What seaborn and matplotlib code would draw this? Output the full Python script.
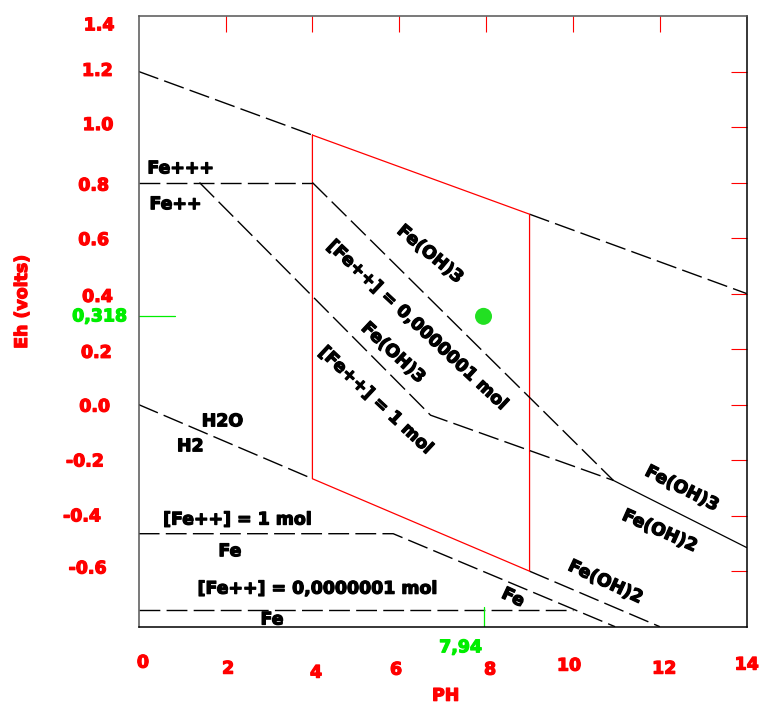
import matplotlib
matplotlib.use("Agg")
import matplotlib.pyplot as plt
import matplotlib.transforms as mtransforms
import matplotlib.patheffects as pe
import seaborn as sns

# ---------------- data ----------------
# water stability limits
o2_ph = [0, 4, 9, 14]
o2_eh = [1.20, 0.971, 0.686, 0.40]
h2_ph = [0, 4, 9, 12]
h2_eh = [0.0, -0.267, -0.600, -0.80]

# stability window of water between pH 4 and 9 (red outline)
box_ph = [4, 9, 9, 4, 4]
box_eh = [0.971, 0.686, -0.600, -0.267, 0.971]

# Fe+++ / Fe++
fe3_ph = [0, 4]
fe3_eh = [0.80, 0.80]
# Fe(OH)3 / Fe++ , [Fe++] = 0,0000001 mol
feoh3_7_ph = [4, 10.93]
feoh3_7_eh = [0.80, -0.273]
# Fe(OH)3 / Fe++ , [Fe++] = 1 mol
feoh3_1_ph = [1.40, 6.72, 10.93]
feoh3_1_eh = [0.80, -0.038, -0.273]
# Fe(OH)3 / Fe(OH)2
feoh32_ph = [10.93, 14]
feoh32_eh = [-0.273, -0.515]
# Fe++ / Fe , [Fe++] = 1 mol
fe_1_ph = [0, 5.86, 10.97]
fe_1_eh = [-0.465, -0.465, -0.80]
# Fe++ / Fe , [Fe++] = 0,0000001 mol
fe_7_ph = [0, 10.0]
fe_7_eh = [-0.741, -0.741]

# measured sample
sample_ph = [7.94]
sample_eh = [0.318]
sample_ph_label = "7,94"
sample_eh_label = "0,318"

xtick_vals = [0, 2, 4, 6, 8, 10, 12, 14]
xtick_labels = ["0", "2", "4", "6", "8", "10", "12", "14"]
ytick_vals = [-0.6, -0.4, -0.2, 0.0, 0.2, 0.4, 0.6, 0.8, 1.0, 1.2, 1.4]
ytick_labels = ["-0.6", "-0.4", "-0.2", "0.0", "0.2", "0.4", "0.6", "0.8",
                "1.0", "1.2", "1.4"]

# region labels: text, pH, Eh, rotation
label_text = ["Fe+++", "Fe++", "H2O", "H2", "[Fe++] = 1 mol", "Fe",
              "[Fe++] = 0,0000001 mol", "Fe",
              "Fe(OH)3", "[Fe++] = 0,0000001 mol", "Fe(OH)3", "[Fe++] = 1 mol",
              "Fe(OH)3", "Fe(OH)2", "Fe(OH)2", "Fe"]
label_ph = [0.97, 0.85, 1.93, 1.19, 2.275, 2.10, 4.12, 3.07,
            6.71, 6.42, 5.86, 5.46,
            12.51, 12.00, 10.75, 8.62]
label_eh = [0.851, 0.722, -0.060, -0.150, -0.414, -0.528, -0.663, -0.774,
            0.542, 0.286, 0.187, 0.0155,
            -0.302, -0.455, -0.639, -0.695]
label_rot = [0, 0, 0, 0, 0, 0, 0, 0,
             -40, -43, -43, -43,
             -27, -24, -25, -25]

# ---------------- style ----------------
sns.set_style("white")
plt.rcParams["font.family"] = ["DejaVu Sans"]
plt.rcParams["font.weight"] = "bold"
RED = "#ff0000"
GREEN = "#00ee00"
FS = 12.5
DASH = (0, (15, 4.5))


def heavy(color):
    return [pe.withStroke(linewidth=0.9, foreground=color)]


fig = plt.figure(figsize=(7.6, 7.07), dpi=100)
ax = fig.add_axes([138.7 / 760, 1 - 626.7 / 707, 608 / 760, 610.7 / 707])


def line(x, y, color="black", ls=DASH, lw=1.0):
    sns.lineplot(x=x, y=y, ax=ax, color=color, linestyle=ls, linewidth=lw,
                 sort=False, estimator=None, legend=False)


# dashed water lines outside the red window
line(o2_ph[0:2], o2_eh[0:2])
line(o2_ph[2:4], o2_eh[2:4])
line(h2_ph[0:2], h2_eh[0:2])
line(h2_ph[2:4], h2_eh[2:4])
# red window
line(box_ph, box_eh, color=RED, ls="-", lw=0.9)
# iron boundaries
line(fe3_ph, fe3_eh)
line(feoh3_7_ph, feoh3_7_eh)
line(feoh3_1_ph, feoh3_1_eh)
line(feoh32_ph, feoh32_eh, ls="-", lw=0.9)
line(fe_1_ph, fe_1_eh)
line(fe_7_ph, fe_7_eh)

# sample point
sns.scatterplot(x=sample_ph, y=sample_eh, ax=ax, s=150, color="#22e022",
                edgecolor="none", zorder=5, legend=False)
ax.axhline(sample_eh[0], xmin=0, xmax=36 / 608, color=GREEN, lw=0.9)
ax.axvline(sample_ph[0], ymin=0, ymax=20 / 610.7, color=GREEN, lw=0.9)

# labels
for t, x, y, r in zip(label_text, label_ph, label_eh, label_rot):
    ax.text(x, y, t, rotation=r, ha="center", va="center", fontsize=FS,
            fontweight="bold", color="black", rotation_mode="anchor",
            path_effects=heavy("black"))

ax.set_xlim(0, 14)
ax.set_ylim(-0.8, 1.4)
ax.set_xticks(xtick_vals)
ax.set_xticklabels(xtick_labels)
ax.set_yticks(ytick_vals)
ax.set_yticklabels(ytick_labels)
ax.tick_params(axis="both", which="major", direction="in", length=11.5,
               width=0.8, color=RED, labelcolor=RED, labelsize=FS,
               top=True, right=True, labeltop=False, labelright=False)
ax.tick_params(axis="x", pad=23.7)
ax.tick_params(axis="y", pad=19.2)

for tk in (ax.xaxis.get_major_ticks()[0], ax.xaxis.get_major_ticks()[-1],
           ax.yaxis.get_major_ticks()[-1]):
    tk.tick1line.set_visible(False)
    tk.tick2line.set_visible(False)

# small per-label offsets (pixels) to mimic the original placement
x_dx = [4.3, 2.6, 3.6, -3.2, 4.0, -3.9, 4.4, 0.0]
x_dy = [-6, 0, 4, 1, 1, -3, 0, -4]
y_dx = [-5.3, -11, -8, -2, -0.3, 0.7, -3, -3, 1.3, 0.7, 2.3]
y_dy = [-4.7, -1.3, -0.7, 0, 1.7, 1.3, 0, 1, -4, -2.7, 7.3]
for lab, dx, dy in zip(ax.get_xticklabels(), x_dx, x_dy):
    lab.set_fontweight("bold")
    lab.set_path_effects(heavy(RED))
    lab.set_transform(lab.get_transform() + mtransforms.ScaledTranslation(
        dx / 100, -dy / 100, fig.dpi_scale_trans))
for lab, dx, dy in zip(ax.get_yticklabels(), y_dx, y_dy):
    lab.set_fontweight("bold")
    lab.set_path_effects(heavy(RED))
    lab.set_transform(lab.get_transform() + mtransforms.ScaledTranslation(
        dx / 100, -dy / 100, fig.dpi_scale_trans))

# green value labels
ax.text(-0.0192, sample_eh[0], sample_eh_label, color=GREEN, fontsize=FS,
        fontweight="bold", ha="right", va="center", path_effects=heavy(GREEN),
        transform=mtransforms.blended_transform_factory(ax.transAxes, ax.transData))
ax.text(7.41, -0.0337, sample_ph_label, color=GREEN, fontsize=FS,
        fontweight="bold", ha="center", va="center", path_effects=heavy(GREEN),
        transform=mtransforms.blended_transform_factory(ax.transData, ax.transAxes))

ax.set_xlabel("PH", color=RED, fontsize=FS, fontweight="bold",
              path_effects=heavy(RED))
ax.xaxis.label.set_verticalalignment("center")
ax.xaxis.set_label_coords(0.505, -0.113)
ax.set_ylabel("Eh (volts)", color=RED, fontsize=FS, fontweight="bold",
              path_effects=heavy(RED))
ax.yaxis.label.set_verticalalignment("center")
ax.yaxis.set_label_coords(-0.192, 0.532)

for s in ("left", "top"):
    ax.spines[s].set_color("#555555")
for s in ("right", "bottom"):
    ax.spines[s].set_color("black")
for s in ax.spines.values():
    s.set_linewidth(1.1)

fig.savefig("out.png", dpi=100)
